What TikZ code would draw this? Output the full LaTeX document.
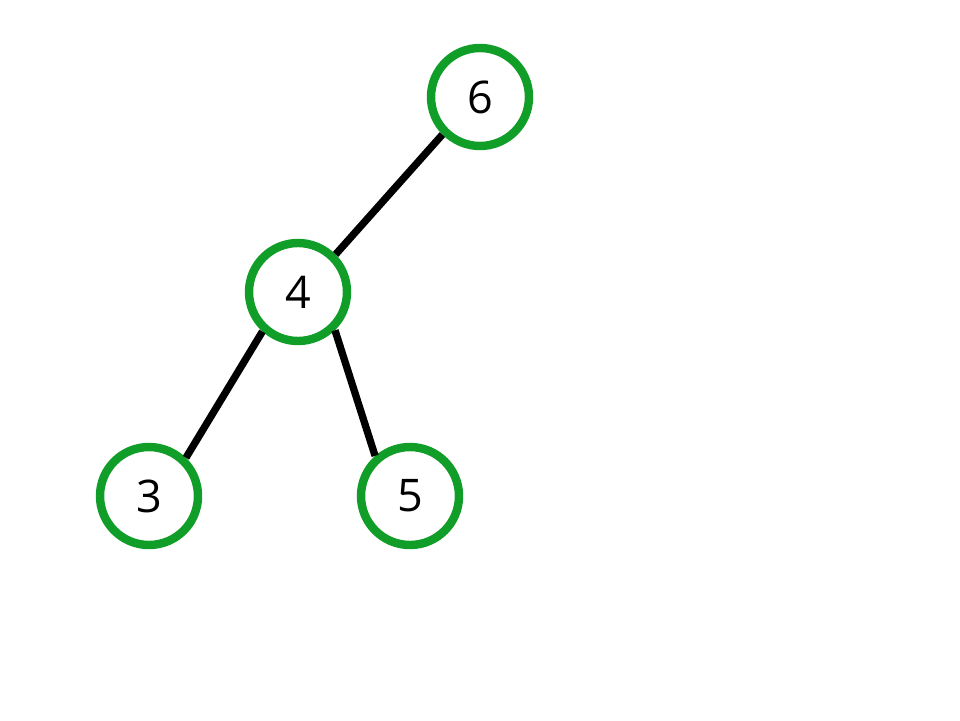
\documentclass[tikz,border=0pt]{standalone}
\usepackage{fontspec}
\setmainfont{Open Sans}
\usepackage{tikz}
\usetikzlibrary{positioning}

\definecolor{treegreen}{RGB}{16,158,40}

\begin{document}
\begin{tikzpicture}[-, 
					line width=5.2pt,
					every node/.style={font=\fontsize{32}{38}\selectfont},
					vertex/.style={circle, draw=treegreen, line width=6pt, fill=white, minimum size=2.45cm, inner sep=0pt}]

	\useasboundingbox (0,0) rectangle (24,18);
	\node[vertex] (six) at (12,15.575)  {6}; 
	\node[vertex] (four) at (7.45,10.7)  {4};
	\node[vertex] (three) at (3.725,5.6)  {3};
	\node[vertex] (five) at (10.25,5.6)  {5};
	\draw	(six.225) edge (four.45)
			(four.228) edge (three.46)
			(four.314) edge (five.131)
;
\end{tikzpicture}
\end{document}
